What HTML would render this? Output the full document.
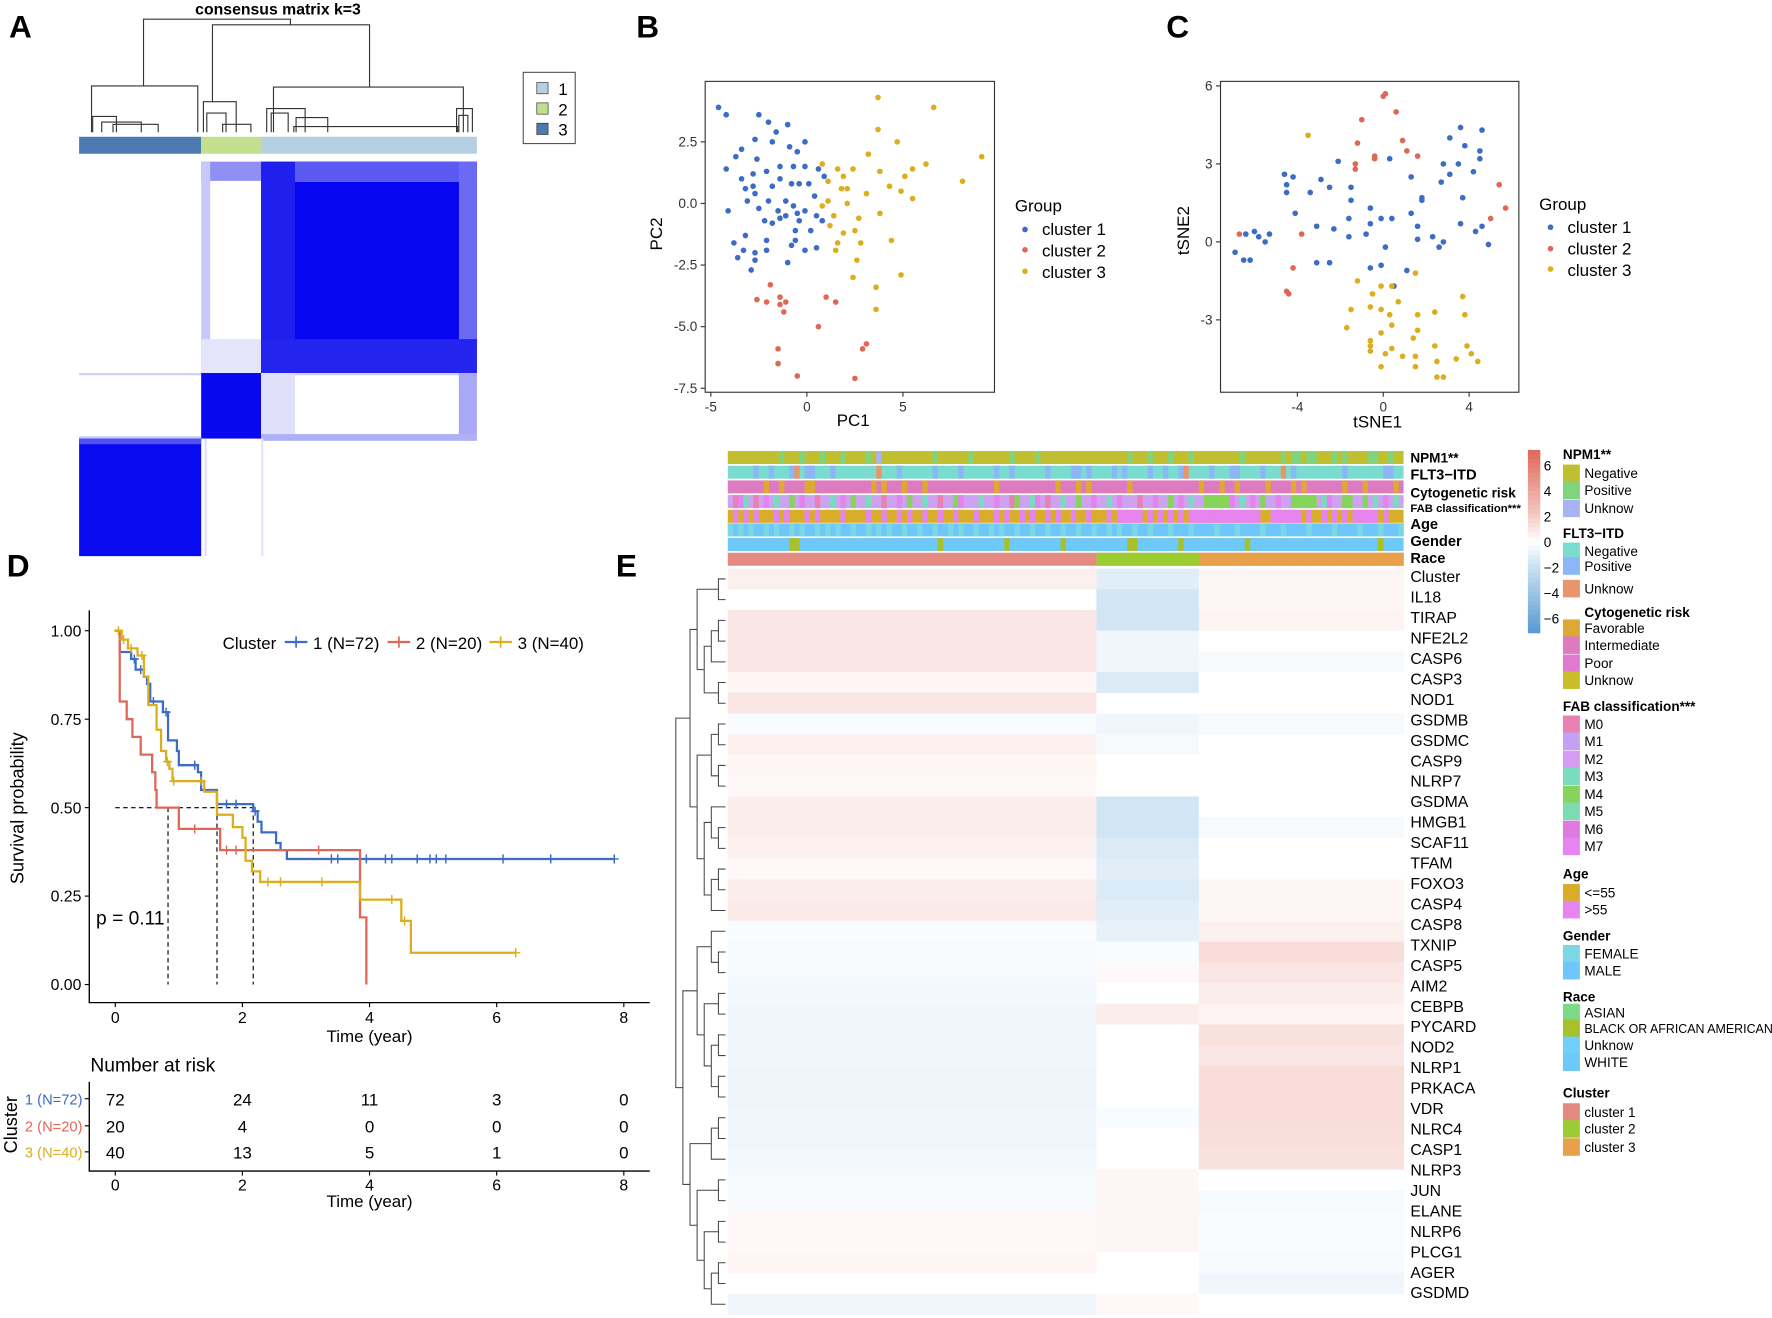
<!DOCTYPE html>
<html><head><meta charset="utf-8"><style>
html,body{margin:0;padding:0;background:#fff;}
svg{display:block;font-family:"Liberation Sans",Arial,sans-serif;}
</style></head><body>
<svg id="fig" width="1772" height="1318" viewBox="0 0 1568 1166" preserveAspectRatio="none" xmlns="http://www.w3.org/2000/svg">
<rect x="0" y="0" width="1568" height="1166" fill="#fff"/>
<g font-weight="bold" font-size="28" fill="#000">
<text x="8" y="33">A</text>
<text x="563" y="33">B</text>
<text x="1032" y="33">C</text>
<text x="6" y="510">D</text>
<text x="545" y="510">E</text>
</g>

<g id="panelA">
<text x="246" y="13" font-size="14" font-weight="bold" text-anchor="middle">consensus matrix k=3</text>
<g stroke="#333" stroke-width="1" fill="none">
<path d="M127,76 V17 H257 V22"/>
<path d="M81,117 V76 H175 V117"/>
<path d="M188,90 V22 H327 V77"/>
<path d="M242,117 V77 H410 V117"/>
<path d="M82,117 V103 H103 V117 M90,117 V108 H125 V117 M100,117 V110 H140 V117"/>
<path d="M180,117 V90 H209 V117 M183,117 V100 H200 V117 M197,117 V110 H222 V117"/>
<path d="M236,117 V96 H270 V117 M240,117 V100 H255 V117 M262,117 V104 H290 V117 M260,117 V112 H405 V117"/>
<path d="M404,117 V96 H418 V117 M406,117 V102 H414 V117"/>
</g>
<rect x="70" y="121" width="108" height="15" fill="#4c79b1"/>
<rect x="178" y="121" width="53" height="15" fill="#c1df8c"/>
<rect x="231" y="121" width="191" height="15" fill="#b4cfe2"/>
<g>
<rect x="70" y="143" width="352" height="349" fill="#fff"/>
<rect x="178" y="143" width="53" height="17" fill="#9090f4"/>
<rect x="178" y="143" width="8" height="187" fill="#c8c8fa"/>
<rect x="178" y="300" width="53" height="30" fill="#e4e4fb"/>
<rect x="231" y="143" width="191" height="187" fill="#1a1af0"/>
<rect x="231" y="143" width="191" height="18" fill="#5a5af3"/>
<rect x="231" y="143" width="30" height="187" fill="#2020ee"/>
<rect x="406" y="143" width="16" height="187" fill="#6a6af4"/>
<rect x="261" y="161" width="145" height="140" fill="#0606f0"/>
<rect x="231" y="300" width="191" height="30" fill="#2424ef"/>
<rect x="70" y="330" width="352" height="2" fill="#d0d0fa"/>
<rect x="178" y="330" width="53" height="58" fill="#0808f0"/>
<rect x="231" y="330" width="30" height="58" fill="#e0e0fb"/>
<rect x="406" y="330" width="16" height="58" fill="#a8a8f7"/>
<rect x="231" y="384" width="191" height="6" fill="#b0b0f8"/>
<rect x="70" y="386" width="108" height="2" fill="#c8c8fa"/>
<rect x="70" y="388" width="108" height="104" fill="#0a0af0"/>
<rect x="70" y="388" width="108" height="5" fill="#5050f3"/>
<rect x="181" y="388" width="2" height="104" fill="#e0e0fb"/>
<rect x="231" y="388" width="2" height="104" fill="#e4e4fb"/>
</g>
<rect x="463" y="64" width="46" height="63" fill="#fff" stroke="#555" stroke-width="1"/>
<rect x="475" y="73" width="10" height="10" fill="#b4cfe2" stroke="#333" stroke-width="0.6"/>
<rect x="475" y="91" width="10" height="10" fill="#c1df8c" stroke="#333" stroke-width="0.6"/>
<rect x="475" y="109" width="10" height="10" fill="#4c79b1" stroke="#333" stroke-width="0.6"/>
<g font-size="15"><text x="494" y="84">1</text><text x="494" y="102">2</text><text x="494" y="120">3</text></g>
</g>

<rect x="624" y="72" width="256" height="275" fill="none" stroke="#333" stroke-width="1"/>
<rect x="1080" y="72" width="264" height="275" fill="none" stroke="#333" stroke-width="1"/>
<g id="gB"></g><g id="gC"></g>
<text x="755" y="377" font-size="15" text-anchor="middle">PC1</text>
<text transform="translate(586,207) rotate(-90)" font-size="15" text-anchor="middle">PC2</text>
<text x="1219" y="378" font-size="15" text-anchor="middle">tSNE1</text>
<text transform="translate(1052,204) rotate(-90)" font-size="15" text-anchor="middle">tSNE2</text>
<g font-size="15">
<text x="898" y="187">Group</text>
<circle cx="907" cy="203" r="2.5" fill="#3d6cc5"/><text x="922" y="208">cluster 1</text>
<circle cx="907" cy="221" r="2.5" fill="#df6758"/><text x="922" y="227">cluster 2</text>
<circle cx="907" cy="240" r="2.5" fill="#dcae1d"/><text x="922" y="246">cluster 3</text>
</g>
<g font-size="15">
<text x="1362" y="186">Group</text>
<circle cx="1372" cy="201" r="2.5" fill="#3d6cc5"/><text x="1387" y="206">cluster 1</text>
<circle cx="1372" cy="220" r="2.5" fill="#df6758"/><text x="1387" y="225">cluster 2</text>
<circle cx="1372" cy="238" r="2.5" fill="#dcae1d"/><text x="1387" y="244">cluster 3</text>
</g>

<g id="gD"></g>
<text transform="translate(21,715) rotate(-90)" font-size="16" text-anchor="middle">Survival probability</text>
<text x="327" y="922" font-size="15" text-anchor="middle">Time (year)</text>
<text x="85" y="818" font-size="17">p = 0.11</text>
<text x="80" y="948" font-size="17">Number at risk</text>
<text transform="translate(15,995) rotate(-90)" font-size="16" text-anchor="middle">Cluster</text>
<text x="327" y="1068" font-size="15" text-anchor="middle">Time (year)</text>
<g font-size="15">
<text x="197" y="574">Cluster</text>
<line x1="252" y1="568" x2="272" y2="568" stroke="#3d6cc5" stroke-width="2"/><line x1="262" y1="563" x2="262" y2="573" stroke="#3d6cc5" stroke-width="1.5"/>
<text x="277" y="574">1 (N=72)</text>
<line x1="343" y1="568" x2="363" y2="568" stroke="#df6758" stroke-width="2"/><line x1="353" y1="563" x2="353" y2="573" stroke="#df6758" stroke-width="1.5"/>
<text x="368" y="574">2 (N=20)</text>
<line x1="433" y1="568" x2="453" y2="568" stroke="#dcae1d" stroke-width="2"/><line x1="443" y1="563" x2="443" y2="573" stroke="#dcae1d" stroke-width="1.5"/>
<text x="458" y="574">3 (N=40)</text>
</g>

<g id="gE"></g>
<g id="gLeg"></g>
</svg>
<script>
const NS="http://www.w3.org/2000/svg";
function mk(parent,tag,attrs,txt){const e=document.createElementNS(NS,tag);for(const k in attrs)e.setAttribute(k,attrs[k]);if(txt!==undefined)e.textContent=txt;parent.appendChild(e);return e;}
const C1="#3d6cc5",C2="#df6758",C3="#dcae1d";

const pcaC1x=[-4.6,-4.2,-2.5,-2.0,-1.0,-1.6,-2.7,-1.8,-0.9,-0.1,-3.4,-3.7,-0.5,-2.6,-4.2,-3.4,-2.8,-2.1,-1.4,-0.7,-0.1,0.6,0.9,-1.8,-1.4,-0.8,-0.4,0.1,0.4,-3.1,-2.7,-2.0,-1.5,-4.1,-2.2,-1.8,-0.7,0.2,-3.2,-2.1,-0.5,-0.1,0.5,-0.4,-3.3,-2.7,-2.1,-3.6,-2.7,-0.8,-0.6,-1.0,-0.1,0.5,-2.9,-3.8,-3.2,-1.1,-2.5,0.8,-2.8,-1.1,-0.6,-1.4];
const pcaC1y=[3.9,3.6,3.6,3.3,3.2,2.9,2.6,2.5,2.3,2.5,2.2,1.9,2.1,1.8,1.4,1.0,1.2,1.3,1.5,1.5,1.5,1.4,1.1,0.7,1.0,0.8,0.8,0.8,0.3,0.1,0.4,0.1,-0.3,-0.3,-0.7,-0.8,-0.1,-1.1,-1.3,-1.5,-0.4,-0.3,-0.5,-0.7,-1.9,-2.0,-1.9,-2.2,-2.3,-1.7,-1.5,-2.4,-1.9,-1.8,-2.7,-1.6,0.6,-0.5,-0.2,-0.7,0.7,0.1,-1.1,-0.6];
const pcaC2x=[-1.9,-2.6,-1.4,-2.1,-1.1,-1.4,-1.2,1.0,1.5,0.6,-1.5,3.1,2.9,-1.5,-0.5,2.5];
const pcaC2y=[-3.3,-3.9,-3.8,-4.0,-4.0,-4.1,-4.4,-3.8,-4.0,-5.0,-5.9,-5.7,-5.9,-6.5,-7.0,-7.1];
const pcaC3x=[3.7,6.6,3.7,4.7,0.8,3.2,1.6,2.4,3.8,5.5,9.1,1.1,1.9,1.8,6.2,8.1,1.1,2.1,3.1,4.3,4.9,5.5,1.4,2.1,1.9,2.5,2.8,3.8,1.5,4.4,2.6,4.9,3.6,3.6,2.4,1.6,1.2,5.1,2.7,0.8];
const pcaC3y=[4.3,3.9,3.0,2.5,1.6,2.0,1.4,1.4,1.3,1.4,1.9,0.9,1.1,0.6,1.6,0.9,0.1,0.6,0.4,0.7,0.5,0.2,-0.5,0.0,-1.2,-1.1,-1.6,-0.4,-1.9,-1.5,-2.3,-2.9,-3.4,-4.3,-3.0,-1.6,-0.9,1.1,-0.6,-0.1];
const pcaXTicks=[-5,0,5], pcaYTicks=[2.5,0,-2.5,-5,-7.5];
const pcaYTickLabels=["2.5","0.0","-2.5","-5.0","-7.5"];
const tsC1x=[3.6,4.6,3.1,3.8,4.5,2.8,3.5,4.5,4.2,1.3,3.1,2.7,-4.6,-4.2,-2.9,-1.5,-2.5,-4.5,-4.5,-3.4,-1.5,1.8,1.8,3.7,-0.6,-4.1,1.3,0.4,-0.1,-1.6,3.6,1.6,4.6,4.3,-3.1,-2.3,-0.6,-0.8,1.6,2.3,2.8,4.9,-1.6,0.1,2.6,-6.9,-6.4,-6.0,-5.8,-5.3,-5.5,-6.5,-6.2,-3.1,-2.5,-0.6,-0.1,0.5,1.1,0.3,-2.1];
const tsC1y=[4.4,4.3,4.0,3.7,3.5,3.0,3.0,3.2,2.7,2.5,2.6,2.3,2.6,2.5,2.4,2.1,2.1,2.2,1.9,1.9,1.6,1.7,1.6,1.7,1.3,1.1,1.1,0.9,0.9,0.9,0.7,0.6,0.6,0.4,0.6,0.5,0.7,0.3,0.1,0.2,0.0,-0.1,0.2,-0.2,-0.2,-0.4,0.3,0.4,0.2,0.3,0.0,-0.7,-0.7,-0.8,-0.8,-1.0,-0.9,-1.7,-1.1,3.2,3.1];
const tsC2x=[0.0,0.1,0.6,-1.0,0.9,-1.2,1.1,-0.4,-1.3,-1.3,1.6,-0.4,5.4,5.7,5.0,-6.7,-3.8,-4.2,-4.5,-4.4];
const tsC2y=[5.6,5.7,5.0,4.7,3.9,3.8,3.5,3.3,3.0,2.8,3.3,3.2,2.2,1.3,0.9,0.3,0.3,-1.0,-1.9,-2.0];
const tsC3x=[-3.5,1.5,-1.2,-0.1,-0.5,0.4,3.7,0.7,-0.6,-0.1,-1.5,0.3,1.6,2.4,3.8,-1.7,0.4,1.6,-0.1,1.4,-0.6,2.4,3.9,-0.6,0.1,0.9,1.5,2.5,3.4,4.1,4.4,1.5,2.5,2.8,-0.1,0.4,-0.6];
const tsC3y=[4.1,-1.2,-1.5,-1.7,-2.0,-1.7,-2.1,-2.3,-2.5,-2.6,-2.6,-2.8,-2.8,-2.7,-2.8,-3.3,-3.2,-3.4,-3.5,-3.7,-3.8,-4.0,-4.0,-4.2,-4.3,-4.4,-4.4,-4.6,-4.5,-4.3,-4.6,-4.8,-5.2,-5.2,-4.8,-4.1,-4.0];
const tsXTicks=[-4,0,4], tsYTicks=[6,3,0,-3];

const kmT1=[0,0.07,0.25,0.32,0.45,0.5,0.55,0.75,0.83,0.97,1.0,1.3,1.35,1.6,2.17,2.24,2.3,2.53,2.6,2.7];
const kmS1=[1,0.94,0.92,0.89,0.87,0.85,0.8,0.77,0.69,0.66,0.62,0.6,0.55,0.51,0.49,0.46,0.43,0.4,0.38,0.355];
const kmEnd1=7.85;
const kmCens1=[0.3,0.4,0.6,0.8,1.25,1.75,1.9,2.2,3.4,3.5,3.95,4.25,4.35,4.75,4.95,5.05,5.2,6.1,6.85,7.85];
const kmT2=[0,0.07,0.18,0.27,0.4,0.58,0.63,0.65,1.0,1.65,3.85,3.95];
const kmS2=[1,0.8,0.75,0.7,0.65,0.6,0.55,0.5,0.44,0.38,0.19,0];
const kmEnd2=3.95;
const kmCens2=[1.25,1.75,1.9,3.2];
const kmT3=[0,0.1,0.2,0.35,0.45,0.52,0.65,0.72,0.8,0.85,0.9,1.4,1.6,1.85,2.0,2.05,2.15,2.28,3.85,4.5,4.65];
const kmS3=[1,0.975,0.95,0.93,0.87,0.79,0.72,0.66,0.63,0.61,0.575,0.545,0.48,0.445,0.415,0.35,0.32,0.29,0.24,0.18,0.09];
const kmEnd3=6.3;
const kmCens3=[0.05,0.13,0.25,0.42,0.82,0.92,1.35,2.4,2.6,3.25,4.35,4.55,6.3];
const kmMedians=[0.83,1.6,2.17];
const kmXTicks=[0,2,4,6,8], kmYTicks=[0,0.25,0.5,0.75,1.0];
const kmYTickLabels=["0.00","0.25","0.50","0.75","1.00"];
const riskLabels=["1 (N=72)","2 (N=20)","3 (N=40)"];
const risk1=[72,24,11,3,0], risk2=[20,4,0,0,0], risk3=[40,13,5,1,0];

const genes=["Cluster","IL18","TIRAP","NFE2L2","CASP6","CASP3","NOD1","GSDMB","GSDMC","CASP9","NLRP7","GSDMA","HMGB1","SCAF11","TFAM","FOXO3","CASP4","CASP8","TXNIP","CASP5","AIM2","CEBPB","PYCARD","NOD2","NLRP1","PRKACA","VDR","NLRC4","CASP1","NLRP3","JUN","ELANE","NLRP6","PLCG1","AGER","GSDMD"];
const exprC1=[0.5,0,0.8,0.8,0.8,0.3,0.8,-0.2,0.5,0.3,0.2,0.6,0.6,0.5,0.2,0.6,0.7,-0.2,-0.3,-0.3,-0.4,-0.5,-0.5,-0.5,-0.6,-0.6,-0.5,-0.5,-0.4,-0.3,-0.3,0.2,0.2,0.3,0,-0.5];
const exprC2=[-1,-1.5,-1.5,-0.5,-0.5,-1.2,0,-0.5,-0.3,0,0,-1.5,-1.5,-1.2,-1,-1.2,-1,-0.8,-0.2,0.2,0,0.6,0,0,0,0,-0.2,0,0,0.3,0.3,0.3,0.3,0,0,0.2];
const exprC3=[0.3,0.3,0.4,0,-0.3,0,0,-0.3,0,0,0,0,-0.3,0,0,0.3,0.3,0.5,1.2,0.8,0.6,0.4,1.0,0.8,1.2,1.2,1.2,1.1,1.0,0,-0.3,-0.2,-0.2,-0.3,-0.5,0];
const clusterSizes=[72,20,40];
const npm1Pos=[10,14,18,22,27,40,47,55,60,78,82,86,90,100,108,110,111,113,114,118,120,125,126,129];
const npm1Unk=[29];
const flt3Pos=[5,8,12,15,16,20,33,40,45,52,55,62,67,68,70,75,77,82,85,88,94,98,99,104,110,120,128,129];
const flt3Unk=[13,29,89,108];
const cytoFav=[7,10,15,16,28,30,34,38,52,64,68,70,78,92,96,99,105,110,112,120,124,130];
const fabM0=[1,5,17,30,41,55,62,80];
const fabM4=[12,24,35,44,56,68,86,93,94,95,96,97,104,110,111,112,113,114,120,121,124];
const fabM5=[3,9,20,27,38,49,59,65,74,90,100,116,126,130];
const fabM7=[2,7,14,22,33,45,52,60,71,76,83,88,98,102,107,117,128];
const ageOld=[1,3,5,9,11,15,17,22,27,30,33,35,38,41,44,48,52,54,57,59,62,64,67,70,74,76,77,78,79,80,82,84,86,88,90,91,92,93,94,95,96,97,98,99,100,101,102,103,106,107,108,109,110,111,113,116,118,120,122,123,124,125,126,128];
const genderFemale=[0,2,4,7,9,12,14,17,19,21,24,27,29,31,34,37,40,43,45,48,51,53,56,59,62,65,68,71,74,76,79,82,86,90,95,99,104,108,113,118,123,127,131];
const raceBlack=[12,13,41,54,65,78,79,88,101,127];

const xB=v=>714+17*v, yB=v=>180-21.8*v;
const gB=document.getElementById('gB');
function ptsB(xs,ys,col,nm){for(let i=0;i<xs.length;i++){const c=mk(gB,'circle',{cx:xB(xs[i]),cy:yB(ys[i]),r:2.5,fill:col});

}}
ptsB(pcaC1x,pcaC1y,C1,'pca-point-cluster-1');ptsB(pcaC2x,pcaC2y,C2,'pca-point-cluster-2');ptsB(pcaC3x,pcaC3y,C3,'pca-point-cluster-3');
pcaXTicks.forEach(t=>{mk(gB,'line',{x1:xB(t),x2:xB(t),y1:347,y2:351,stroke:'#333'});const e=mk(gB,'text',{x:xB(t),y:364,'font-size':12,'text-anchor':'middle',fill:'#333'},String(t));

});
pcaYTicks.forEach((t,i)=>{mk(gB,'line',{x1:620,x2:624,y1:yB(t),y2:yB(t),stroke:'#333'});const e=mk(gB,'text',{x:617,y:yB(t)+4,'font-size':12,'text-anchor':'end',fill:'#333'},pcaYTickLabels[i]);

});

const xC=v=>1224+19*v, yC=v=>214-23*v;
const gC=document.getElementById('gC');
function ptsC(xs,ys,col,nm){for(let i=0;i<xs.length;i++){const c=mk(gC,'circle',{cx:xC(xs[i]),cy:yC(ys[i]),r:2.5,fill:col});

}}
ptsC(tsC1x,tsC1y,C1,'tsne-point-cluster-1');ptsC(tsC2x,tsC2y,C2,'tsne-point-cluster-2');ptsC(tsC3x,tsC3y,C3,'tsne-point-cluster-3');
tsXTicks.forEach(t=>{mk(gC,'line',{x1:xC(t),x2:xC(t),y1:347,y2:351,stroke:'#333'});const e=mk(gC,'text',{x:xC(t),y:364,'font-size':12,'text-anchor':'middle',fill:'#333'},String(t));

});
tsYTicks.forEach(t=>{mk(gC,'line',{x1:1076,x2:1080,y1:yC(t),y2:yC(t),stroke:'#333'});const e=mk(gC,'text',{x:1073,y:yC(t)+4,'font-size':12,'text-anchor':'end',fill:'#333'},String(t));

});

const xD=t=>102+56.25*t, yD=s=>871-313*s;
const gD=document.getElementById('gD');
mk(gD,'path',{d:'M79,540 V887 H575',fill:'none',stroke:'#000','stroke-width':1.2});
kmXTicks.forEach(t=>{mk(gD,'line',{x1:xD(t),x2:xD(t),y1:887,y2:891,stroke:'#000'});const e=mk(gD,'text',{x:xD(t),y:905,'font-size':14,'text-anchor':'middle'},String(t));

});
kmYTicks.forEach((t,i)=>{mk(gD,'line',{x1:75,x2:79,y1:yD(t),y2:yD(t),stroke:'#000'});const e=mk(gD,'text',{x:72,y:yD(t)+5,'font-size':14,'text-anchor':'end'},kmYTickLabels[i]);

});
const medMax=Math.max(...kmMedians);
mk(gD,'line',{x1:xD(0),x2:xD(medMax),y1:yD(0.5),y2:yD(0.5),stroke:'#000','stroke-dasharray':'4,3','stroke-width':1});
kmMedians.forEach(m=>{const l=mk(gD,'line',{x1:xD(m),x2:xD(m),y1:yD(0.5),y2:yD(0),stroke:'#000','stroke-dasharray':'4,3','stroke-width':1});

});
function stepAt(T,S,t){let s=S[0];for(let i=0;i<T.length;i++){if(T[i]<=t)s=S[i];}return s;}
function curve(T,S,end,cens,col,nm){let d='M'+xD(T[0])+','+yD(S[0]);for(let i=1;i<T.length;i++){d+=' H'+xD(T[i])+' V'+yD(S[i]);}d+=' H'+xD(end);
const p=mk(gD,'path',{d:d,fill:'none',stroke:col,'stroke-width':2});


cens.forEach(c=>{const s=stepAt(T,S,c);const x=xD(c),y=yD(s);mk(gD,'path',{d:`M${x-4},${y} H${x+4} M${x},${y-4} V${y+4}`,stroke:col,'stroke-width':1.3});});}
curve(kmT1,kmS1,kmEnd1,kmCens1,C1,'km-curve-cluster-1');
curve(kmT2,kmS2,kmEnd2,kmCens2,C2,'km-curve-cluster-2');
curve(kmT3,kmS3,kmEnd3,kmCens3,C3,'km-curve-cluster-3');
mk(gD,'path',{d:'M79,957 V1036 H575',fill:'none',stroke:'#000','stroke-width':1.2});
const riskRows=[risk1,risk2,risk3],riskCols=[C1,C2,C3],riskY=[978,1002,1025];
riskRows.forEach((r,i)=>{const lab=mk(gD,'text',{x:73,y:riskY[i]-1,'font-size':13,'text-anchor':'end',fill:riskCols[i]},riskLabels[i]);


mk(gD,'line',{x1:75,x2:79,y1:riskY[i]-6,y2:riskY[i]-6,stroke:'#000'});
r.forEach((v,j)=>{const e=mk(gD,'text',{x:xD(kmXTicks[j]),y:riskY[i],'font-size':15,'text-anchor':'middle'},String(v));

});});
kmXTicks.forEach(t=>{mk(gD,'line',{x1:xD(t),x2:xD(t),y1:1036,y2:1040,stroke:'#000'});const e=mk(gD,'text',{x:xD(t),y:1053,'font-size':14,'text-anchor':'middle'},String(t));

});

const gE=document.getElementById('gE');
const HX0=644,HX1=1242,HY0=503,HY1=1163,NS_=clusterSizes.reduce((a,b)=>a+b,0);
const sw=(HX1-HX0)/NS_, rh=(HY1-HY0)/genes.length;
const xS=i=>HX0+i*sw;
function mix(a,b,f){const pa=[1,3,5].map(k=>parseInt(a.substr(k,2),16)),pb=[1,3,5].map(k=>parseInt(b.substr(k,2),16));return 'rgb('+pa.map((v,i)=>Math.round(v+(pb[i]-v)*f)).join(',')+')';}
function colV(v){if(v>=0){return v<=2?mix('#ffffff','#f3c4bd',v/2):mix('#f3c4bd','#e06a5c',Math.min(1,(v-2)/4));}
const a=-v;return a<=2?mix('#ffffff','#c2dcf0',a/2):mix('#c2dcf0','#5b9bd5',Math.min(1,(a-2)/4));}
const starts=[0,clusterSizes[0],clusterSizes[0]+clusterSizes[1]];
const exprs=[exprC1,exprC2,exprC3];
genes.forEach((g,r)=>{for(let c=0;c<3;c++){const cell=mk(gE,'rect',{x:xS(starts[c]),y:HY0+r*rh,width:clusterSizes[c]*sw+0.3,height:rh+0.3,fill:colV(exprs[c][r])});

}
const t=mk(gE,'text',{x:1248,y:510+r*18.1+5,'font-size':14},g);

});
const annY=[399,412,425,438,451,463,476,489],annH=11.5;
function annBar(k,base,stripes,nm){mk(gE,'rect',{x:HX0,y:annY[k],width:HX1-HX0,height:annH,fill:base});
stripes.forEach(([idx,col])=>{idx.forEach(i=>{mk(gE,'rect',{x:xS(i),y:annY[k],width:sw+0.2,height:annH,fill:col});});});
const b=mk(gE,'rect',{x:HX0,y:annY[k],width:HX1-HX0,height:annH,fill:'none'});

}
annBar(0,'#bfbf2f',[[npm1Pos,'#80d47c'],[npm1Unk,'#a9b2f5']],'npm1-annotation');
annBar(1,'#7adccf',[[flt3Pos,'#8cb6f5'],[flt3Unk,'#e8956a']],'flt3-annotation');
annBar(2,'#de7bc0',[[cytoFav,'#dca932']],'cytogenetic-annotation');
annBar(3,'#cda2f0',[[fabM0,'#e982b2'],[fabM4,'#86d45a'],[fabM5,'#7adcbe'],[fabM7,'#e482ee']],'fab-annotation');
annBar(4,'#d8ad2a',[[ageOld,'#e684f0']],'age-annotation');
annBar(5,'#6ec6fa',[[genderFemale,'#7ad8e6']],'gender-annotation');
annBar(6,'#6ec8f8',[[raceBlack,'#a8c02a']],'race-annotation');
annBar(7,'#e58a80',[[Array.from({length:clusterSizes[1]},(_,i)=>starts[1]+i),'#9acd32'],[Array.from({length:clusterSizes[2]},(_,i)=>starts[2]+i),'#e8a04a']],'cluster-annotation');
const annLabels=["NPM1**","FLT3−ITD","Cytogenetic risk","FAB classification***","Age","Gender","Race"];
const annLabY=[409,424,440,453,468,483,498];const annFs=[12,13,12,10,13,13,13];
annLabels.forEach((l,i)=>{const t=mk(gE,'text',{x:1248,y:annLabY[i],'font-size':annFs[i],'font-weight':'bold'},l);

});
const tree=[[[[0,1],[[[2,3],4],[5,6]]],[[[7,8],[9,10]],[[11,[12,13]],[[14,15],16]]]],[[[17,[18,19]],[[20,21],[[22,23],[24,25]]]],[[[26,27],28],[[29,30],[[31,32],[[33,34],35]]]]]];
function height(n){return Array.isArray(n)?1+Math.max(height(n[0]),height(n[1])):0;}
const rootH=height(tree),dx=(HX0-2-598)/rootH;let dpath='';
function drawNode(n){if(!Array.isArray(n))return {y:HY0+n*rh+rh/2,x:HX0-2};const a=drawNode(n[0]),b=drawNode(n[1]);const x=HX0-2-height(n)*dx;
dpath+=`M${a.x},${a.y} H${x} V${b.y} H${b.x} `;return {y:(a.y+b.y)/2,x:x};}
drawNode(tree);
const dp=mk(gE,'path',{d:dpath,fill:'none',stroke:'#444','stroke-width':0.9});



const gL=document.getElementById('gLeg');
const cbar=[6,4,2,0,-2,-4,-6];
for(let i=0;i<40;i++){const v=6-12*i/39;mk(gL,'rect',{x:1352,y:398+i*4.05,width:11,height:4.3,fill:colV(v)});}
const cbY=v=>480-11.3*v;
cbar.forEach(v=>{const t=mk(gL,'text',{x:1366,y:cbY(v)+4,'font-size':12},String(v).replace('-','−'));

});
const legGroups=[
 ["NPM1**",402,[["Negative","#bfbf2f",419],["Positive","#80d47c",434],["Unknow","#a9b2f5",450]]],
 ["FLT3−ITD",472,[["Negative","#7adccf",488],["Positive","#8cb6f5",501],["Unknow","#e8956a",521]]],
 ["Cytogenetic risk",542,[["Favorable","#dca932",556],["Intermediate","#de7bc0",571],["Poor","#e07ad0",587],["Unknow","#c9bd2c",602]]],
 ["FAB classification***",625,[["M0","#e982b2",641],["M1","#c3a2f5",656],["M2","#d69cf2",672],["M3","#7adcbe",687],["M4","#86d45a",703],["M5","#7adcb0",718],["M6","#e07ae0",734],["M7","#e884f2",749]]],
 ["Age",773,[["<=55","#d8ad2a",790],[">55","#e684f0",805]]],
 ["Gender",828,[["FEMALE","#7ad8e6",844],["MALE","#6ec6fa",859]]],
 ["Race",882,[["ASIAN","#7ed88a",896],["BLACK OR AFRICAN AMERICAN","#a8c02a",910],["Unknow","#6ed0f8",925],["WHITE","#6ec8f8",940]]],
 ["Cluster",967,[["cluster 1","#e58a80",984],["cluster 2","#9acd32",999],["cluster 3","#e8a04a",1015]]]];
legGroups.forEach(([title,ty,items])=>{const tx=title==="Cytogenetic risk"?1402:1383;
const t=mk(gL,'text',{x:tx,y:ty+4,'font-size':12,'font-weight':'bold'},title);


items.forEach(([lab,col,y])=>{mk(gL,'rect',{x:1383,y:y-8,width:15,height:15.5,fill:col});
const e=mk(gL,'text',{x:1402,y:y+4,'font-size':lab.length>20?11:12},lab);

});});
</script>
</body></html>
